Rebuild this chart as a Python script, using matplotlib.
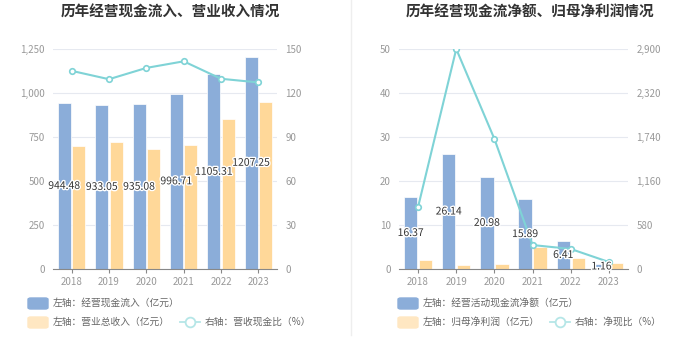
import matplotlib.pyplot as plt
import matplotlib.patches as mpatches
from matplotlib.lines import Line2D
import matplotlib.patheffects as pe
import numpy as np

plt.rcParams['font.family'] = ['Noto Sans CJK SC', 'DejaVu Sans']

years = ['2018', '2019', '2020', '2021', '2022', '2023']

# left chart
cash_inflow = [944.48, 933.05, 935.08, 996.71, 1105.31, 1207.25]
revenue = [699, 721, 682, 704, 852, 949]
inflow_ratio = [135.1, 129.4, 137.1, 141.6, 129.7, 127.2]

# right chart
net_cash = [16.37, 26.14, 20.98, 15.89, 6.41, 1.16]
net_profit = [2.0, 0.9, 1.22, 5.03, 2.43, 1.26]
net_ratio = [818, 2900, 1714, 316, 264, 92]

BLUE = '#8badd9'
YELLOW = '#ffd899'
LINE = '#7fd3d6'
GRID = '#e6e9f0'
TICK = '#999999'

W, H = 700, 359
fig = plt.figure(figsize=(7, 3.59), dpi=100)


def px(x, y):
    return x / W, 1 - y / H


def panel(x0, x1, left_vals, left2_vals, right_vals, lmax, lstep, rmax, rstep, title, tx,
          leg1, leg2, leg3, legx, legx3):
    ax = fig.add_axes([x0 / W, (H - 269) / H, (x1 - x0) / W, 220 / H])
    x = np.arange(len(years))
    ax.bar(x - 0.195, left_vals, width=0.35, color=BLUE, edgecolor='white', linewidth=0.5, zorder=2)
    ax.bar(x + 0.195, left2_vals, width=0.35, color=YELLOW, edgecolor='white', linewidth=0.5, zorder=2)
    ax.set_xlim(-0.5, len(years) - 0.5)
    ax.set_ylim(0, lmax)
    ax.set_yticks(np.arange(0, lmax + 0.001, lstep))
    ax.yaxis.set_major_formatter(plt.FuncFormatter(lambda v, p: f'{v:,.0f}'))
    ax.set_xticks(x)
    ax.set_xticklabels(years)
    ax.grid(axis='y', color=GRID, linewidth=0.8, zorder=0)
    for s in ['top', 'right', 'left']:
        ax.spines[s].set_visible(False)
    ax.spines['bottom'].set_color('#888888')
    ax.tick_params(axis='y', length=0, labelsize=7, labelcolor=TICK, pad=6)
    ax.tick_params(axis='x', length=3, color='#888888', labelsize=7, labelcolor=TICK, pad=3)

    ax2 = ax.twinx()
    ax2.set_ylim(0, rmax)
    ax2.set_yticks(np.arange(0, rmax + 0.001, rstep))
    ax2.yaxis.set_major_formatter(plt.FuncFormatter(lambda v, p: f'{v:,.0f}'))
    for s in ['top', 'right', 'left', 'bottom']:
        ax2.spines[s].set_visible(False)
    ax2.tick_params(axis='y', length=0, labelsize=7, labelcolor=TICK, pad=6)
    ax2.plot(x, right_vals, color=LINE, linewidth=1.5, marker='o', markersize=4,
             markerfacecolor='white', markeredgecolor=LINE, markeredgewidth=1.2, zorder=3)

    for xi, v in zip(x, left_vals):
        ax2.text(xi - 0.195, v / 2 * rmax / lmax, f'{v:.2f}', ha='center', va='center',
                 fontsize=7.5, color='#333333', zorder=5,
                 path_effects=[pe.withStroke(linewidth=2, foreground='white')])

    fig.text(*px(tx, 12), title, ha='center', va='center', fontsize=10.5,
             fontweight='bold', color='#333333')

    # legend
    fig.patches.append(mpatches.FancyBboxPatch(px(legx, 309), 20 / W, 11 / H,
                                               boxstyle='round,pad=0,rounding_size=0.004',
                                               transform=fig.transFigure, color=BLUE))
    fig.text(*px(legx + 25, 303), leg1, ha='left', va='center', fontsize=7, color='#666666')
    fig.patches.append(mpatches.FancyBboxPatch(px(legx, 328), 20 / W, 11 / H,
                                               boxstyle='round,pad=0,rounding_size=0.004',
                                               transform=fig.transFigure, color='#ffe7c2'))
    fig.text(*px(legx + 25, 322), leg2, ha='left', va='center', fontsize=7, color='#666666')
    fig.lines.append(Line2D([legx3 / W, (legx3 + 20) / W], [1 - 322 / H] * 2,
                            transform=fig.transFigure, color='#b5e6e7', linewidth=1.3))
    fig.lines.append(Line2D([(legx3 + 10) / W], [1 - 322 / H], transform=fig.transFigure,
                            marker='o', markersize=7, markerfacecolor='white',
                            markeredgecolor='#b5e6e7', markeredgewidth=1.3))
    fig.text(*px(legx3 + 25, 322), leg3, ha='left', va='center', fontsize=7, color='#666666')


panel(53, 277, cash_inflow, revenue, inflow_ratio, 1250, 250, 150, 30,
      '历年经营现金流入、营业收入情况', 170,
      '左轴：经营现金流入（亿元）', '左轴：营业总收入（亿元）', '右轴：营收现金比（%）', 28, 180)
panel(399, 628, net_cash, net_profit, net_ratio, 50, 10, 2900, 580,
      '历年经营现金流净额、归母净利润情况', 530,
      '左轴：经营活动现金流净额（亿元）', '左轴：归母净利润（亿元）', '右轴：净现比（%）', 398, 550)

# separator
fig.lines.append(Line2D([351 / W, 351 / W], [1, 1 - 335 / H], transform=fig.transFigure,
                        color='#eeeeee', linewidth=1))

fig.savefig('out.png', dpi=100, facecolor='white')
